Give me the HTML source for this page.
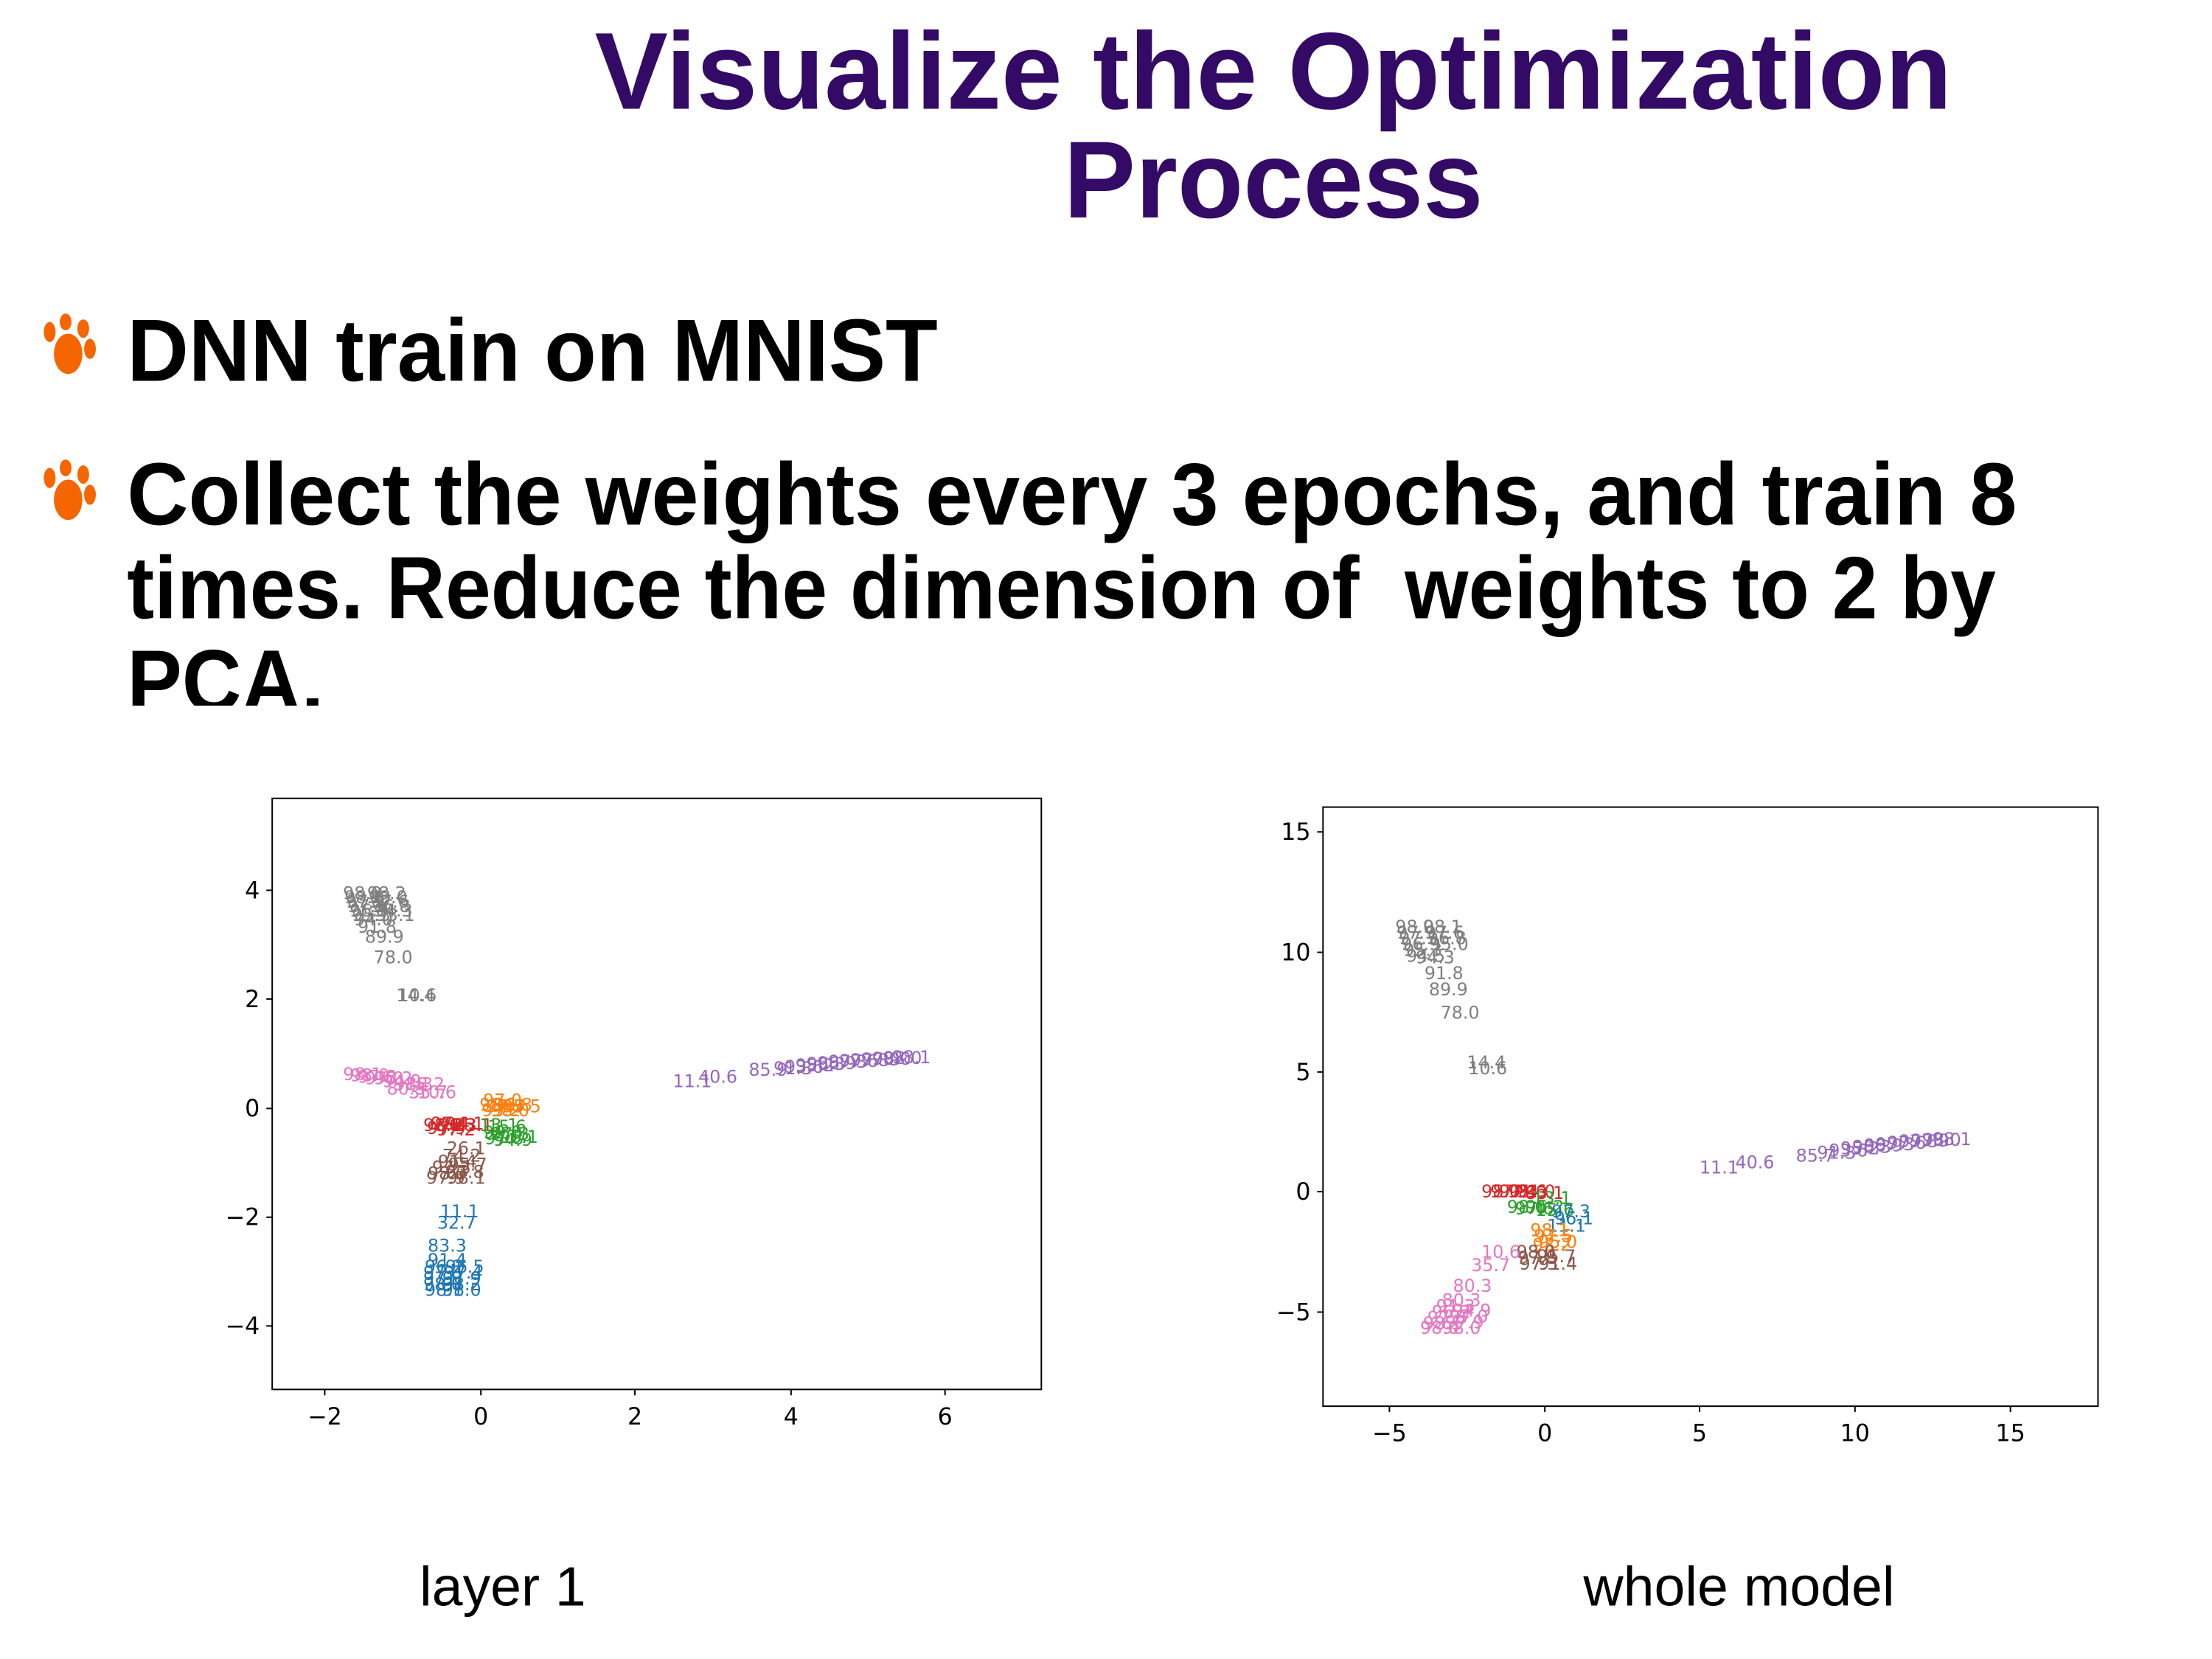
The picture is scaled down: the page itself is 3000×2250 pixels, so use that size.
<!DOCTYPE html>
<html><head><meta charset="utf-8"><style>
html,body{margin:0;padding:0;background:#fff;width:3000px;height:2250px;overflow:hidden}
svg{display:block}
.t{font-family:"Liberation Sans",sans-serif;font-weight:bold}
.a{font-family:"DejaVu Sans","Liberation Sans",sans-serif;font-size:24px}
.k{font-family:"DejaVu Sans","Liberation Sans",sans-serif;font-size:32px;fill:#000}
</style></head><body>
<svg width="3000" height="2250" viewBox="0 0 3000 2250" xmlns="http://www.w3.org/2000/svg">
<rect width="3000" height="2250" fill="#fff"/>
<g transform="scale(0.9897)">
<text class="t" x="1745" y="149" font-size="150" fill="#330a66" text-anchor="middle" textLength="1860" lengthAdjust="spacingAndGlyphs">Visualize the Optimization</text>
<text class="t" x="1745" y="298" font-size="150" fill="#330a66" text-anchor="middle" textLength="575" lengthAdjust="spacingAndGlyphs">Process</text>

<g fill="#f56600">
 <g transform="translate(52,432) scale(1.15)"><ellipse cx="36" cy="46" rx="17" ry="24"/><ellipse cx="14" cy="20" rx="7" ry="12"/><ellipse cx="33" cy="8" rx="7" ry="10"/><ellipse cx="54" cy="16" rx="7" ry="11"/><ellipse cx="62" cy="40" rx="7" ry="12"/></g>
 <g transform="translate(52,632) scale(1.15)"><ellipse cx="36" cy="46" rx="17" ry="24"/><ellipse cx="14" cy="20" rx="7" ry="12"/><ellipse cx="33" cy="8" rx="7" ry="10"/><ellipse cx="54" cy="16" rx="7" ry="11"/><ellipse cx="62" cy="40" rx="7" ry="12"/></g>
</g>
<text class="t" x="174" y="522" font-size="121" fill="#000" textLength="1111" lengthAdjust="spacingAndGlyphs">DNN train on MNIST</text>
<text class="t" x="174" y="719" font-size="121" fill="#000" textLength="2590" lengthAdjust="spacingAndGlyphs">Collect the weights every 3 epochs, and train 8</text>
<text class="t" x="174" y="847" font-size="121" fill="#000" textLength="2561" lengthAdjust="spacingAndGlyphs" xml:space="preserve">times. Reduce the dimension of  weights to 2 by</text>
<text class="t" x="174" y="975" font-size="121" fill="#000" textLength="270" lengthAdjust="spacingAndGlyphs">PCA.</text>
<rect x="150" y="967" width="500" height="40" fill="#fff"/>

<!-- LEFT PLOT -->
<rect x="373" y="1094" width="1054" height="810" fill="none" stroke="#000" stroke-width="2"/>
<g stroke="#000" stroke-width="2">
<line x1="445" y1="1904" x2="445" y2="1912"/><line x1="659" y1="1904" x2="659" y2="1912"/><line x1="870" y1="1904" x2="870" y2="1912"/><line x1="1084" y1="1904" x2="1084" y2="1912"/><line x1="1295" y1="1904" x2="1295" y2="1912"/>
<line x1="365" y1="1220" x2="373" y2="1220"/><line x1="365" y1="1369" x2="373" y2="1369"/><line x1="365" y1="1519" x2="373" y2="1519"/><line x1="365" y1="1668" x2="373" y2="1668"/><line x1="365" y1="1817" x2="373" y2="1817"/>
</g>
<g class="k" text-anchor="middle">
<text x="445" y="1952">−2</text><text x="659" y="1952">0</text><text x="870" y="1952">2</text><text x="1084" y="1952">4</text><text x="1295" y="1952">6</text>
</g>
<g class="k" text-anchor="end">
<text x="356" y="1231">4</text><text x="356" y="1380">2</text><text x="356" y="1530">0</text><text x="356" y="1679">−2</text><text x="356" y="1828">−4</text>
</g>
<g class="a" fill="#7f7f7f">
<text x="470" y="1232">98.0</text><text x="472" y="1238">98.1</text><text x="474" y="1244">97.9</text><text x="476" y="1250">97.5</text><text x="479" y="1256">96.9</text><text x="482" y="1262">95.3</text><text x="485" y="1268">94.0</text>
<text x="503" y="1232">98.2</text><text x="505" y="1238">98.0</text><text x="507" y="1244">97.6</text><text x="509" y="1250">96.8</text><text x="512" y="1256">94.3</text><text x="515" y="1262">93.1</text><text x="490" y="1278">91.8</text>
<text x="500" y="1292">89.9</text><text x="512" y="1320">78.0</text><text x="543" y="1372">14.4</text><text x="545" y="1372">10.6</text>
</g>
<g class="a" fill="#e377c2">
<text x="470" y="1480">98.1</text><text x="480" y="1482">98.0</text><text x="490" y="1484">97.8</text><text x="500" y="1486">97.0</text><text x="512" y="1486">96.2</text><text x="524" y="1490">94.9</text><text x="540" y="1494">91.3</text><text x="556" y="1494">88.2</text><text x="530" y="1500">80.3</text><text x="560" y="1505">35.7</text><text x="572" y="1505">10.6</text>
</g>
<g class="a" fill="#ff7f0e">
<text x="657" y="1522">98.1</text><text x="666" y="1524">97.7</text><text x="676" y="1522">96.8</text><text x="688" y="1524">95.5</text><text x="660" y="1530">93.2</text><text x="672" y="1530">98.0</text><text x="662" y="1516">97.0</text>
</g>
<g class="a" fill="#d62728">
<text x="580" y="1550">98.0</text><text x="590" y="1548">97.4</text><text x="600" y="1550">96.3</text><text x="610" y="1548">94.1</text><text x="622" y="1550">83.1</text><text x="585" y="1554">97.9</text><text x="598" y="1556">97.2</text>
</g>
<g class="a" fill="#2ca02c">
<text x="657" y="1550">13.1</text><text x="668" y="1552">15.6</text><text x="662" y="1560">98.0</text><text x="672" y="1562">97.3</text><text x="684" y="1566">96.1</text><text x="676" y="1570">94.9</text><text x="664" y="1568">97.8</text>
</g>
<g class="a" fill="#8c564b">
<text x="612" y="1582">26.1</text><text x="606" y="1592">74.2</text><text x="600" y="1600">91.4</text><text x="592" y="1608">97.3</text><text x="586" y="1616">98.0</text><text x="614" y="1604">95.7</text><text x="610" y="1614">97.8</text><text x="584" y="1622">97.9</text><text x="612" y="1622">98.1</text>
</g>
<g class="a" fill="#1f77b4">
<text x="603" y="1668">11.1</text><text x="599" y="1684">32.7</text><text x="586" y="1715">83.3</text><text x="586" y="1735">91.4</text>
<text x="582" y="1744">96.2</text><text x="580" y="1752">97.3</text><text x="580" y="1760">97.8</text><text x="580" y="1768">98.0</text><text x="582" y="1776">98.1</text>
<text x="610" y="1744">96.5</text><text x="608" y="1752">97.4</text><text x="606" y="1760">97.9</text><text x="606" y="1768">98.2</text><text x="606" y="1776">98.0</text>
</g>
<g class="a" fill="#9467bd">
<text x="922" y="1490">11.1</text><text x="957" y="1484">40.6</text><text x="1026" y="1474">85.9</text>
<text x="1060" y="1472">91.3</text><text x="1075" y="1470">93.6</text><text x="1090" y="1468">95.2</text><text x="1105" y="1466">96.3</text><text x="1120" y="1465">96.9</text><text x="1135" y="1463">97.3</text><text x="1150" y="1462">97.6</text><text x="1165" y="1461">97.8</text><text x="1180" y="1460">97.9</text><text x="1195" y="1459">98.0</text><text x="1210" y="1458">98.0</text><text x="1222" y="1457">98.1</text>
</g>

<!-- RIGHT PLOT -->
<rect x="1813" y="1106" width="1062" height="821" fill="none" stroke="#000" stroke-width="2"/>
<g stroke="#000" stroke-width="2">
<line x1="1904" y1="1927" x2="1904" y2="1935"/><line x1="2117" y1="1927" x2="2117" y2="1935"/><line x1="2329" y1="1927" x2="2329" y2="1935"/><line x1="2542" y1="1927" x2="2542" y2="1935"/><line x1="2755" y1="1927" x2="2755" y2="1935"/>
<line x1="1805" y1="1140" x2="1813" y2="1140"/><line x1="1805" y1="1305" x2="1813" y2="1305"/><line x1="1805" y1="1469" x2="1813" y2="1469"/><line x1="1805" y1="1633" x2="1813" y2="1633"/><line x1="1805" y1="1798" x2="1813" y2="1798"/>
</g>
<g class="k" text-anchor="middle">
<text x="1904" y="1975">−5</text><text x="2117" y="1975">0</text><text x="2329" y="1975">5</text><text x="2542" y="1975">10</text><text x="2755" y="1975">15</text>
</g>
<g class="k" text-anchor="end">
<text x="1796" y="1151">15</text><text x="1796" y="1316">10</text><text x="1796" y="1480">5</text><text x="1796" y="1644">0</text><text x="1796" y="1809">−5</text>
</g>
<g class="a" fill="#7f7f7f">
<text x="1912" y="1278">98.0</text><text x="1914" y="1286">97.9</text><text x="1917" y="1294">97.5</text><text x="1920" y="1302">96.9</text><text x="1923" y="1310">95.3</text><text x="1927" y="1318">94.5</text>
<text x="1950" y="1278">98.1</text><text x="1953" y="1286">97.6</text><text x="1956" y="1294">96.8</text><text x="1959" y="1302">95.0</text><text x="1940" y="1320">94.3</text>
<text x="1952" y="1342">91.8</text><text x="1958" y="1364">89.9</text><text x="1974" y="1396">78.0</text><text x="2010" y="1464">14.4</text><text x="2012" y="1472">10.6</text>
</g>
<g class="a" fill="#d62728">
<text x="2030" y="1641">98.0</text><text x="2042" y="1641">97.8</text><text x="2054" y="1641">97.1</text><text x="2066" y="1641">95.6</text><text x="2078" y="1641">94.0</text><text x="2090" y="1643">83.1</text>
</g>
<g class="a" fill="#2ca02c">
<text x="2065" y="1662">98.0</text><text x="2076" y="1664">97.6</text><text x="2090" y="1662">96.2</text><text x="2104" y="1666">15.6</text><text x="2100" y="1650">13.1</text>
</g>
<g class="a" fill="#1f77b4">
<text x="2126" y="1668">97.3</text><text x="2130" y="1678">96.1</text><text x="2120" y="1688">11.1</text>
</g>
<g class="a" fill="#ff7f0e">
<text x="2097" y="1694">98.1</text><text x="2102" y="1702">97.5</text><text x="2108" y="1710">95.0</text><text x="2100" y="1714">93.2</text>
</g>
<g class="a" fill="#8c564b">
<text x="2078" y="1724">98.0</text><text x="2080" y="1732">97.8</text><text x="2082" y="1740">97.3</text><text x="2106" y="1730">95.7</text><text x="2108" y="1740">91.4</text>
</g>
<g class="a" fill="#e377c2">
<text x="2030" y="1724">10.6</text><text x="2016" y="1742">35.7</text><text x="1991" y="1770">80.3</text><text x="1976" y="1790">80.3</text>
<text x="1968" y="1798">91.3</text><text x="1962" y="1806">96.2</text><text x="1956" y="1814">97.8</text><text x="1950" y="1822">98.1</text><text x="1946" y="1828">98.0</text>
<text x="1990" y="1804">94.9</text><text x="1986" y="1812">97.0</text><text x="1980" y="1820">97.9</text><text x="1976" y="1828">98.0</text>
</g>
<g class="a" fill="#9467bd">
<text x="2329" y="1608">11.1</text><text x="2378" y="1601">40.6</text><text x="2461" y="1592">85.7</text>
<text x="2490" y="1588">91.3</text><text x="2506" y="1585">93.6</text><text x="2522" y="1582">95.2</text><text x="2538" y="1580">96.3</text><text x="2554" y="1578">96.9</text><text x="2570" y="1576">97.3</text><text x="2586" y="1574">97.6</text><text x="2602" y="1572">97.8</text><text x="2618" y="1571">97.9</text><text x="2634" y="1570">98.0</text><text x="2648" y="1569">98.1</text>
</g>

<text x="689" y="2200" font-family="'Liberation Sans',sans-serif" font-size="76" fill="#000" text-anchor="middle">layer 1</text>
<text x="2383" y="2200" font-family="'Liberation Sans',sans-serif" font-size="76" fill="#000" text-anchor="middle">whole model</text>
</g>
</svg>
</body></html>
